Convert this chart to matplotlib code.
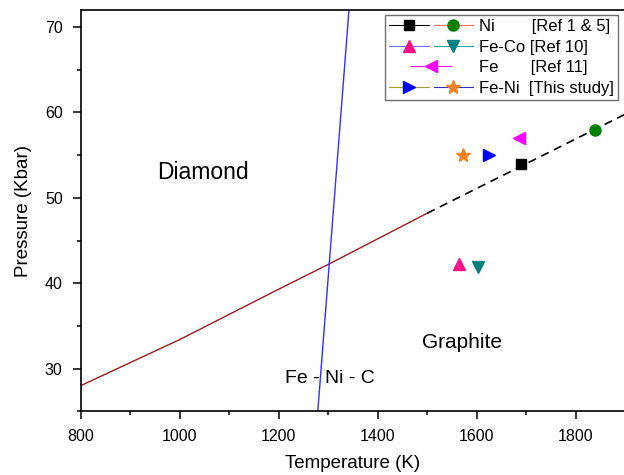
import matplotlib
matplotlib.use("Agg")
import matplotlib.pyplot as plt
from matplotlib.lines import Line2D
from matplotlib.legend_handler import HandlerLine2D, HandlerTuple
from matplotlib.ticker import MultipleLocator

plt.rcParams['font.family'] = ['Liberation Sans', 'DejaVu Sans']

# ---- data ----
boundary_T = [800, 1000, 1200, 1300, 1400, 1500]
boundary_P = [28.0, 33.4, 39.3, 42.2, 45.2, 48.2]
extrap_T = [1500, 1900]
extrap_P = [48.2, 59.8]
eutectic_T = [1279, 1342]
eutectic_P = [25.0, 72.0]

ni_sq_T, ni_sq_P = [1690], [54.0]
ni_ci_T, ni_ci_P = [1840], [58.0]
feco_up_T, feco_up_P = [1564], [42.2]
feco_dn_T, feco_dn_P = [1603], [41.9]
fe_T, fe_P = [1685], [57.0]
feni_tri_T, feni_tri_P = [1625], [55.0]
feni_star_T, feni_star_P = [1572], [55.0]

legend_labels = ["Ni        [Ref 1 & 5]", "Fe-Co [Ref 10]", "Fe       [Ref 11]", "Fe-Ni  [This study]"]

fig = plt.figure(figsize=(6.24, 4.75), dpi=100)
ax = fig.add_axes([0.1293, 0.1341, 0.8726, 0.8448])

ax.plot(boundary_T, boundary_P, color='#9b1c1c', lw=1.0)
ax.plot(extrap_T, extrap_P, color='black', lw=1.2, ls=(0, (5, 3.5)))
ax.plot(eutectic_T, eutectic_P, color='#3030ff', lw=1.0)

ax.plot(ni_sq_T, ni_sq_P, ls='none', marker='s', color='black', ms=7)
ax.plot(ni_ci_T, ni_ci_P, ls='none', marker='o', color='#008000', ms=8)
ax.plot(feco_up_T, feco_up_P, ls='none', marker='^', color='#ff1088', ms=8.5)
ax.plot(feco_dn_T, feco_dn_P, ls='none', marker='v', color='#008080', ms=8.5)
ax.plot(fe_T, fe_P, ls='none', marker='<', color='#ff00ff', ms=8.5)
ax.plot(feni_tri_T, feni_tri_P, ls='none', marker='>', color='#0000ff', ms=8.5)
ax.plot(feni_star_T, feni_star_P, ls='none', marker='*', color='#f58220', ms=10)

ax.text(1047, 53.0, "Diamond", fontsize=16.5, ha='center', va='center')
ax.text(1571, 33.1, "Graphite", fontsize=15, ha='center', va='center')
ax.text(1304, 28.8, "Fe - Ni - C", fontsize=14, ha='center', va='center')

ax.set_xlim(800, 1900)
ax.set_ylim(25, 72)
ax.xaxis.set_major_locator(MultipleLocator(200))
ax.xaxis.set_minor_locator(MultipleLocator(100))
ax.yaxis.set_major_locator(MultipleLocator(10))
ax.yaxis.set_minor_locator(MultipleLocator(5))
ax.tick_params(which='major', direction='out', length=6, width=1.1, labelsize=11.5, pad=7)
ax.tick_params(which='minor', direction='out', length=3, width=1.1)
for s in ax.spines.values():
    s.set_linewidth(1.2)
ax.set_xlabel("Temperature (K)", fontsize=13.5, labelpad=8)
ax.set_ylabel("Pressure (Kbar)", fontsize=13.5, labelpad=9)

# legend proxies
h_sq = Line2D([], [], color='black', lw=0.8, marker='s', ms=7)
h_ci = Line2D([], [], color='#f07070', lw=0.8, marker='o', mfc='#008000', mec='#008000', ms=8)
h_up = Line2D([], [], color='#7070ff', lw=0.8, marker='^', mfc='#ff1088', mec='#ff1088', ms=9)
h_dn = Line2D([], [], color='#30a0a0', lw=0.8, marker='v', mfc='#008080', mec='#008080', ms=9)
h_fe = Line2D([], [], color='#ff00ff', lw=0.8, marker='<', ms=9)
h_tr = Line2D([], [], color='#a0a030', lw=0.8, marker='>', mfc='#0000ff', mec='#0000ff', ms=9)
h_st = Line2D([], [], color='#3030c0', lw=0.8, marker='*', mfc='#f58220', mec='#f58220', ms=10)


class CenterHandler(HandlerLine2D):
    def create_artists(self, legend, orig_handle, xdescent, ydescent, width, height, fontsize, trans):
        w2 = width * 0.47
        x0 = (width - w2) / 2
        return super().create_artists(legend, orig_handle, xdescent - x0, ydescent, w2, height, fontsize, trans)


leg = ax.legend([(h_sq, h_ci), (h_up, h_dn), h_fe, (h_tr, h_st)], legend_labels,
                handler_map={tuple: HandlerTuple(ndivide=None, pad=0.3), h_fe: CenterHandler()},
                loc='upper right', bbox_to_anchor=(0.9875, 0.988), fontsize=12,
                handlelength=5.0, handletextpad=0.4, labelspacing=0.33,
                borderpad=0.25, borderaxespad=0, fancybox=False, framealpha=1,
                edgecolor='#707070')
leg.get_frame().set_linewidth(1.0)

fig.savefig("out.png", dpi=100)
